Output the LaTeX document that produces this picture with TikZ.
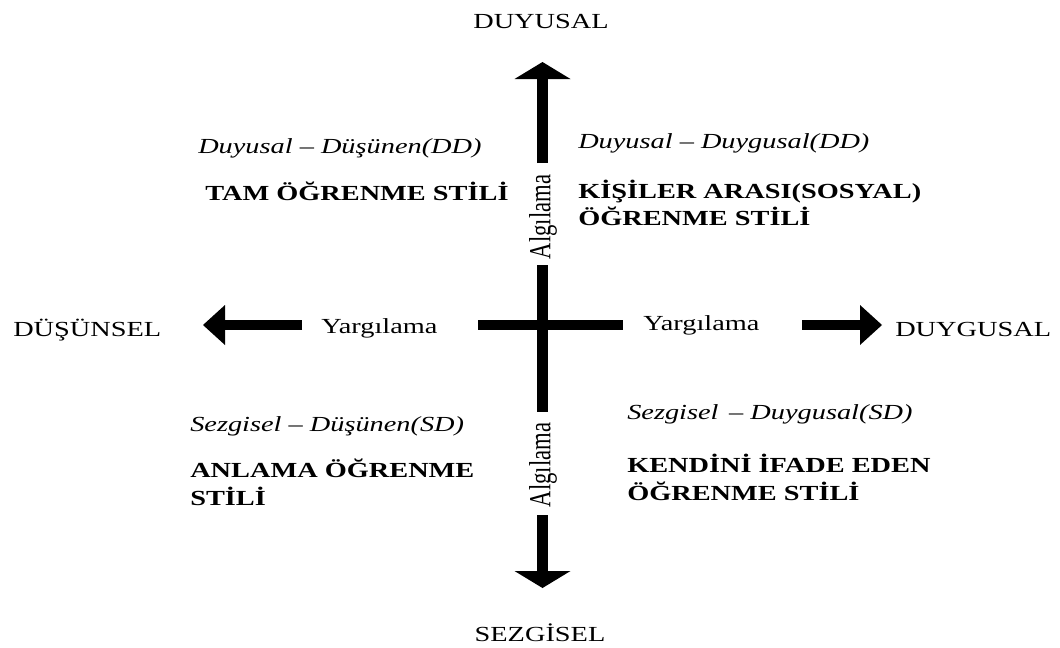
\documentclass[tikz,border=0pt]{standalone}
\usepackage{fontspec}
\usepackage{graphicx}
\usetikzlibrary{arrows.meta}
\setmainfont{Liberation Serif}[FakeStretch=1.32]
\newfontfamily\uprightserif{Liberation Serif}

\tikzset{
  lbl/.style={inner sep=0pt, font=\fontsize{16.1}{20.25}\selectfont},
  ital/.style={lbl, font=\fontsize{16.1}{20.25}\selectfont\itshape},
  stylename/.style={lbl, font=\fontsize{16.1}{20.25}\selectfont\bfseries, align=left},
  vshaft/.style={line width=8.4pt, black},
  hshaft/.style={line width=7.2pt, black},
  vtip/.style={-{Triangle[length=12.75pt, width=42pt, line width=0pt]}},
  htip/.style={-{Triangle[length=16.5pt, width=30pt, line width=0pt]}},
}

\begin{document}
\begin{tikzpicture}[x=0.75pt, y=-0.75pt]
\fill[white] (0,0) rectangle (1060,647);
\useasboundingbox (0,0) rectangle (1060,647);

% axis end labels
\node[lbl, anchor=base] (duyusal)  at (541,28)  {DUYUSAL};
\node[lbl, anchor=base] (sezgisel) at (540,641) {SEZGİSEL};
\node[lbl, anchor=base west] (dusunsel) at (13,336)  {DÜŞÜNSEL};
\node[lbl, anchor=base west] (duygusal) at (895,336) {DUYGUSAL};

% axis names sitting in the gaps of the arrows
\node[lbl, anchor=base west] (yargL) at (321,333) {Yargılama};
\node[lbl, anchor=base west] (yargR) at (643,330) {Yargılama};
\node[inner sep=0pt] (algU) at (543,217)
  {\scalebox{1.35}[1]{\rotatebox{90}{\uprightserif\fontsize{17}{19}\selectfont Algılama}}};
\node[inner sep=0pt] (algD) at (543,465)
  {\scalebox{1.35}[1]{\rotatebox{90}{\uprightserif\fontsize{17}{19}\selectfont Algılama}}};

% arrow geometry
\coordinate (c) at (542.5,325);
\coordinate (uTip) at (542.5,62);
\coordinate (uStart) at (542.5,163);
\coordinate (mTop) at (542.5,265);
\coordinate (mBot) at (542.5,412);
\coordinate (dStart) at (542.5,515);
\coordinate (dTip) at (542.5,588);
\coordinate (lTip) at (203,325);
\coordinate (lStart) at (302,325);
\coordinate (hLeft) at (478,325);
\coordinate (hRight) at (623,325);
\coordinate (rStart) at (802,325);
\coordinate (rTip) at (882,325);

% vertical axis: perception
\draw[vshaft, vtip] (uStart) -- (uTip);
\draw[vshaft] (mTop) -- (mBot);
\draw[vshaft, vtip] (dStart) -- (dTip);
% horizontal axis: judgement
\draw[hshaft, htip] (lStart) -- (lTip);
\draw[hshaft] (hLeft) -- (hRight);
\draw[hshaft, htip] (rStart) -- (rTip);

% quadrant texts
\node[ital, anchor=base west] (q1a) at (198,153) {Duyusal – Düşünen(DD)};
\node[stylename, anchor=base west] (q1b) at (205,200) {TAM ÖĞRENME STİLİ};

\node[ital, anchor=base west] (q2a) at (578,148) {Duyusal – Duygusal(DD)};
\node[stylename, anchor=base west] (q2b) at (578,198) {KİŞİLER ARASI(SOSYAL)};
\node[stylename, anchor=base west] (q2c) at (578,225) {ÖĞRENME STİLİ};

\node[ital, anchor=base west] (q3a) at (190,431) {Sezgisel – Düşünen(SD)};
\node[stylename, anchor=base west] (q3b) at (190,477) {ANLAMA ÖĞRENME};
\node[stylename, anchor=base west] (q3c) at (190,505) {STİLİ};

\node[ital, anchor=base west] (q4a) at (627,419) {Sezgisel\, – Duygusal(SD)};
\node[stylename, anchor=base west] (q4b) at (627,472) {KENDİNİ İFADE EDEN};
\node[stylename, anchor=base west] (q4c) at (627,500) {ÖĞRENME STİLİ};
\end{tikzpicture}
\end{document}
